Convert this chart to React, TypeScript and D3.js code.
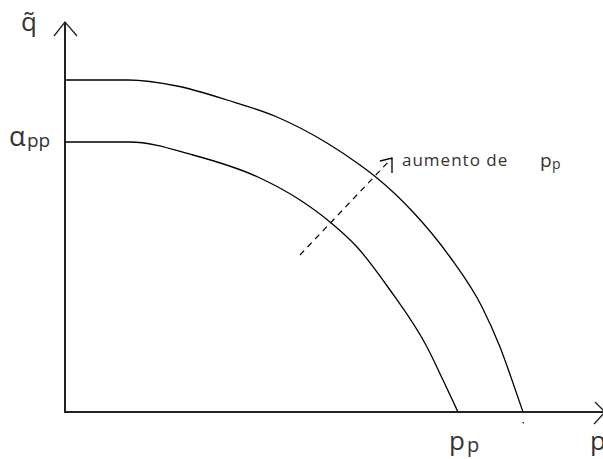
import React from "react";
import * as d3 from "d3";

const W = 603;
const H = 459;

// curve data in data units (p, q)
const outerCurve: [number, number][] = [
  [0, 332], [63, 332], [112, 326], [162, 312], [212, 295], [262, 269], [295, 247],
  [312, 234], [348, 200], [385, 155], [417, 105], [435, 65], [448, 29], [458, 0],
];
const innerCurve: [number, number][] = [
  [0, 270], [65, 270], [128, 257], [195, 234], [235, 212], [265, 190], [292, 165],
  [325, 122], [362, 65], [378, 32], [393, 0],
];
const shiftArrow: [number, number][] = [[235, 157], [327, 254]];
const axisMax = { p: 540, q: 390 };

export default function App() {
  const x = d3.scaleLinear().domain([0, axisMax.p]).range([65, 605]);
  const y = d3.scaleLinear().domain([0, axisMax.q]).range([412, 22]);
  const line = d3
    .line<[number, number]>()
    .x((d) => x(d[0]))
    .y((d) => y(d[1]))
    .curve(d3.curveMonotoneX);
  const x0 = x(0), y0 = y(0);
  const yTop = y(axisMax.q);
  const xEnd = x(axisMax.p);
  const a0 = shiftArrow[0], a1 = shiftArrow[1];
  const tipX = x(a1[0]), tipY = y(a1[1]);
  const font = "'Open Sans', 'DejaVu Sans', sans-serif";
  return (
    <svg width={W} height={H} style={{ position: "absolute", left: 0, top: 0, background: "#fff" }}>
      <rect width={W} height={H} fill="#fff" />
      {/* axes */}
      <line x1={x0} y1={y0} x2={x0} y2={yTop} stroke="#222" strokeWidth={2} />
      <line x1={x0 - 1} y1={y0} x2={xEnd} y2={y0} stroke="#222" strokeWidth={2} />
      <polyline points={`${x0 - 11},${yTop + 14} ${x0},${yTop} ${x0 + 12},${yTop + 14}`} fill="none" stroke="#222" strokeWidth={1.3} />
      <polyline points={`${xEnd - 10},${y0 - 10} ${xEnd},${y0} ${xEnd - 11},${y0 + 12}`} fill="none" stroke="#222" strokeWidth={1.3} />
      {/* curves */}
      <path d={line(outerCurve) || ""} fill="none" stroke="#000" strokeWidth={1.3} />
      <path d={line(innerCurve) || ""} fill="none" stroke="#000" strokeWidth={1.3} />
      {/* dashed shift arrow */}
      <line x1={x(a0[0])} y1={y(a0[1])} x2={tipX} y2={tipY} stroke="#000" strokeWidth={1.2} strokeDasharray="6 5" />
      <polyline points={`${tipX - 12},${tipY + 3} ${tipX},${tipY} ${tipX},${tipY + 15}`} fill="none" stroke="#000" strokeWidth={1.3} />
      <rect x={x(458) - 0.5} y={422} width={1.5} height={1.5} fill="#333" />
      {/* labels */}
      <text x={21} y={31} fontFamily={font} fontSize={26} fill="#333">{"q\u0303"}</text>
      <text x={9} y={146} fontFamily={font} fontSize={27} fill="#333">α</text>
      <text x={27} y={147} fontFamily={font} fontSize={19} fill="#333">pp</text>
      <text x={402} y={166} fontFamily={font} fontSize={17} fill="#333" letterSpacing={1}>aumento de</text>
      <text x={540} y={167} fontFamily={font} fontSize={19} fill="#333">p</text>
      <text x={552} y={169} fontFamily={font} fontSize={14} fill="#333">p</text>
      <text x={449} y={450} fontFamily={font} fontSize={26} fill="#333">p</text>
      <text x={467} y={452} fontFamily={font} fontSize={20} fill="#333">p</text>
      <text x={590} y={450} fontFamily={font} fontSize={26} fill="#333">p</text>
    </svg>
  );
}
